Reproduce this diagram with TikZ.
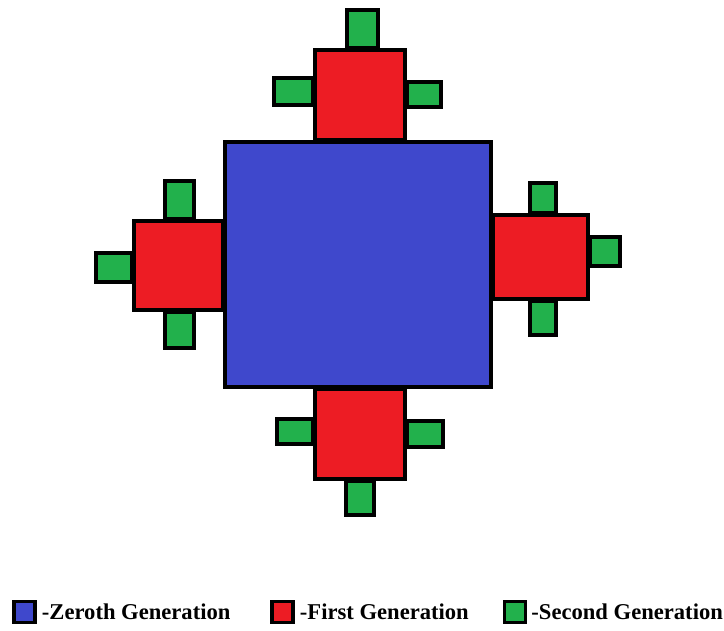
\documentclass[tikz,border=0pt]{standalone}
\usepackage{fontspec}
\setmainfont{Liberation Serif}
\usetikzlibrary{positioning}

\definecolor{genblue}{RGB}{63,72,204}
\definecolor{genred}{RGB}{237,28,36}
\definecolor{gengreen}{RGB}{34,177,76}

\begin{document}
\begin{tikzpicture}[x=1pt,y=-1pt,
  zeroth/.style={draw=black, line width=4pt, fill=genblue},
  first/.style={draw=black, line width=4pt, fill=genred},
  second/.style={draw=black, line width=4pt, fill=gengreen},
  legend text/.style={inner sep=0pt, font=\fontsize{22.6}{27}\selectfont\bfseries}]
  \useasboundingbox (0,0) rectangle (724,631);

  % Seconda generazione
  \draw[second] (347,10) rectangle (378,48);
  \draw[second] (274,78) rectangle (313,105);
  \draw[second] (407,82) rectangle (441,107);
  \draw[second] (165,181) rectangle (194,219);
  \draw[second] (96,253) rectangle (132,282);
  \draw[second] (165,312) rectangle (194,348);
  \draw[second] (277,419) rectangle (313,444);
  \draw[second] (407,421) rectangle (443,447);
  \draw[second] (346,481) rectangle (374,515);
  \draw[second] (530,183) rectangle (556,213);
  \draw[second] (590,237) rectangle (620,266);
  \draw[second] (530,301) rectangle (556,335);

  % Prima generazione
  \draw[first] (315,50) rectangle (405,140);
  \draw[first] (134,221) rectangle (223,310);
  \draw[first] (315,389) rectangle (405,479);
  \draw[first] (493,215) rectangle (588,299);

  % Generazione zero
  \draw[zeroth] (225,142) rectangle (491,387);

  % Legenda
  \node[zeroth, line width=3.5pt, minimum size=21pt, inner sep=0pt] (key0) at (24.5,612) {};
  \node[legend text, right=5pt of key0] (lab0) {-Zeroth Generation};
  \node[first, line width=3.5pt, minimum size=21pt, inner sep=0pt] (key1) at (282.5,612) {};
  \node[legend text, right=5pt of key1] (lab1) {-First Generation};
  \node[second, line width=3.5pt, minimum size=21pt, inner sep=0pt] (key2) at (515,612) {};
  \node[legend text, right=4pt of key2] (lab2) {-Second Generation};
\end{tikzpicture}
\end{document}
